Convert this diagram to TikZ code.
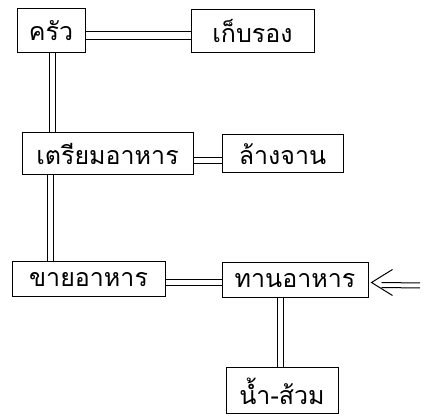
\documentclass[tikz,border=0pt]{standalone}
\usepackage{fontspec}
\newfontfamily\thai[Script=Thai]{Loma}
\begin{document}
\begin{tikzpicture}[x=1pt,y=-1pt,
  box/.style={draw=black, line width=1pt, fill=white, inner sep=0pt, font=\thai\fontsize{25}{27}\selectfont},
  lin/.style={draw=black, line width=1pt},
  hpair/.style={lin, transform canvas={yshift=#1}},
  vpair/.style={lin, transform canvas={xshift=#1}}]
\useasboundingbox (0,0) rectangle (424,419);
\node[box, minimum width=68pt, minimum height=44pt] (krua) at (51,31) {ครัว};
\node[box, minimum width=123pt, minimum height=43pt] (kep) at (252.5,31.5) {เก็บรอง};
\node[box, minimum width=171pt, minimum height=42pt] (triam) at (107.5,154) {เตรียมอาหาร};
\node[box, minimum width=121pt, minimum height=38pt] (lang) at (282.5,154) {ล้างจาน};
\node[box, minimum width=153pt, minimum height=35pt] (khai) at (88.5,279.5) {ขายอาหาร};
\node[box, minimum width=146pt, minimum height=35pt] (than) at (295,280.5) {ทานอาหาร};
\node[box, minimum width=112pt, minimum height=46pt] (nam) at (282,391) {น้ำ-ส้วม};
% krua -- kep
\draw[hpair=-1pt] (krua.east) -- (krua.east -| kep.west);
\draw[hpair=-9pt] (krua.east) -- (krua.east -| kep.west);
% krua -- triam
\draw[vpair=-2pt] (krua.south) -- (krua.south |- triam.north);
\draw[vpair=4pt] (krua.south) -- (krua.south |- triam.north);
% triam -- lang
\draw[hpair=-4pt] (triam.east) -- (triam.east -| lang.west);
\draw[hpair=-10pt] (triam.east) -- (triam.east -| lang.west);
% triam -- khai
\draw[vpair=-4pt] (triam.south -| krua.south) -- (khai.north -| krua.south);
\draw[vpair=2pt] (triam.south -| krua.south) -- (khai.north -| krua.south);
% khai -- than
\draw[hpair=0pt] (khai.east) -- (khai.east -| than.west);
\draw[hpair=-6pt] (khai.east) -- (khai.east -| than.west);
% than -- nam
\draw[vpair=-5pt] (nam.north) -- (nam.north |- than.south);
\draw[vpair=1pt] (nam.north) -- (nam.north |- than.south);
% incoming arrow
\coordinate (tip) at ([xshift=3pt,yshift=-2pt]than.east);
\coordinate (tail) at (420,283);
\draw[lin] ([xshift=21pt,yshift=13pt]tip) -- (tip) -- ([xshift=21pt,yshift=-13pt]tip);
\draw[lin] ([xshift=10pt]tip) -- (tail);
\draw[lin] ([xshift=10pt,yshift=-5pt]tip) -- ([yshift=-5pt]tail);
\end{tikzpicture}
\end{document}
